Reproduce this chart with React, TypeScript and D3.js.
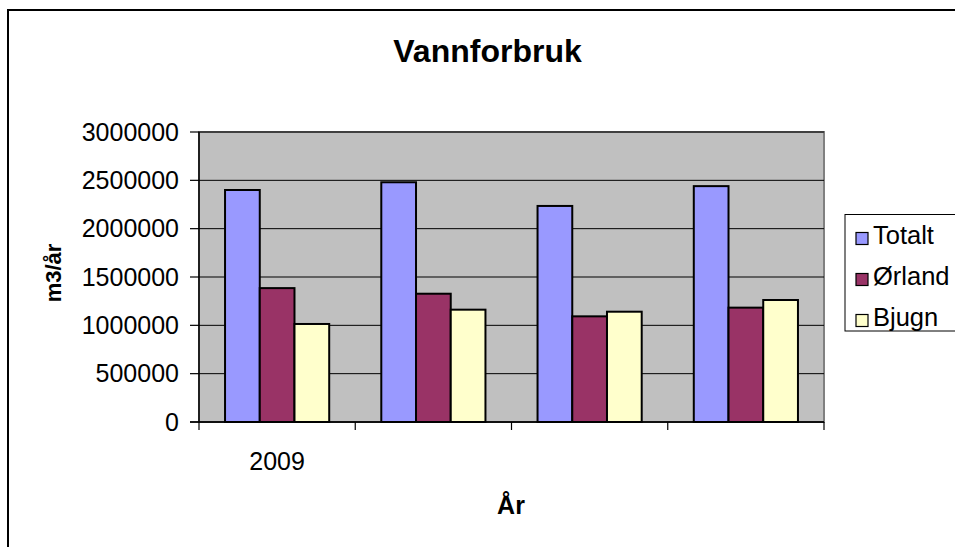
import React from "react";
import * as d3 from "d3";

const categories = ["2009", "", "", ""];
const seriesNames = ["Totalt", "Ørland", "Bjugn"];
const totalt = [2400000, 2480000, 2235000, 2440000];
const orland = [1385000, 1327000, 1093000, 1183000];
const bjugn = [1014000, 1162000, 1141000, 1262000];
const seriesValues = [totalt, orland, bjugn];
const yTicks = [0, 500000, 1000000, 1500000, 2000000, 2500000, 3000000];
const colors = ["#9999FF", "#993366", "#FFFFCC"];

const W = 955;
const H = 547;
const plot = { left: 199, right: 824, top: 132, bottom: 422 };
const FONT = "'Liberation Sans', Arial, sans-serif";

export default function App() {
  const x = d3.scaleBand<string>()
    .domain(categories.map((_, i) => String(i)))
    .range([plot.left, plot.right])
    .paddingInner(0)
    .paddingOuter(0);
  const xs = d3.scaleBand<string>()
    .domain(seriesNames)
    .range([0, x.bandwidth()])
    .paddingInner(0)
    .paddingOuter(0.75);
  const y = d3.scaleLinear().domain([0, 3000000]).range([plot.bottom, plot.top]);

  const catTicks = d3.range(categories.length + 1).map(
    (i) => plot.left + i * x.step()
  );

  return (
    <svg
      width={W}
      height={H}
      style={{ position: "absolute", left: 0, top: 0, background: "#fff" }}
      fontFamily={FONT}
    >
      <rect x={8} y={10} width={1200} height={1200} fill="#fff" stroke="#000" strokeWidth={2} />
      <text x={487.5} y={61.5} textAnchor="middle" fontSize={32} fontWeight="bold">
        Vannforbruk
      </text>

      <rect
        x={plot.left}
        y={plot.top}
        width={plot.right - plot.left}
        height={plot.bottom - plot.top}
        fill="#C0C0C0"
        stroke="#808080"
        strokeWidth={2}
      />
      {yTicks.map((t) => (
        <line
          key={"g" + t}
          x1={plot.left}
          x2={plot.right}
          y1={y(t)}
          y2={y(t)}
          stroke="#000"
          strokeWidth={1}
        />
      ))}

      {categories.map((c, ci) =>
        seriesNames.map((s, si) => {
          const v = seriesValues[si][ci];
          const bx = (x(String(ci)) as number) + (xs(s) as number);
          return (
            <rect
              key={ci + "-" + si}
              x={bx}
              y={y(v)}
              width={xs.bandwidth()}
              height={y(0) - y(v)}
              fill={colors[si]}
              stroke="#000"
              strokeWidth={2}
            />
          );
        })
      )}

      {/* axes */}
      <line x1={plot.left} x2={plot.left} y1={plot.top} y2={plot.bottom} stroke="#000" strokeWidth={1.5} />
      <line x1={plot.left - 9} x2={plot.right} y1={plot.bottom} y2={plot.bottom} stroke="#000" strokeWidth={1.5} />
      {yTicks.map((t) => (
        <g key={"t" + t}>
          <line x1={plot.left - 9} x2={plot.left} y1={y(t)} y2={y(t)} stroke="#000" strokeWidth={1.2} />
          <text
            x={179}
            y={y(t)}
            dy="0.35em"
            textAnchor="end"
            fontSize={25}
          >
            {t}
          </text>
        </g>
      ))}
      {catTicks.map((cx, i) => (
        <line key={"c" + i} x1={cx} x2={cx} y1={plot.bottom} y2={plot.bottom + 8} stroke="#000" strokeWidth={1.2} />
      ))}
      {categories.map((c, ci) => (
        <text
          key={"cl" + ci}
          x={(x(String(ci)) as number) + x.bandwidth() / 2}
          y={469.5}
          textAnchor="middle"
          fontSize={25}
        >
          {c}
        </text>
      ))}

      <text x={511} y={513.5} textAnchor="middle" fontSize={25} fontWeight="bold">
        År
      </text>
      <text
        transform={`translate(61,273) rotate(-90)`}
        textAnchor="middle"
        fontSize={22}
        fontWeight="bold"
      >
        m3/år
      </text>

      {/* legend */}
      <rect x={845} y={214.5} width={200} height={116.5} fill="#fff" stroke="#000" strokeWidth={1} />
      {seriesNames.map((s, i) => {
        const base = 244 + i * 41;
        return (
          <g key={"l" + s}>
            <rect x={856} y={base - 11.5} width={12} height={12} fill={colors[i]} stroke="#000" strokeWidth={1.2} />
            <text x={873} y={base} fontSize={25.5}>
              {s}
            </text>
          </g>
        );
      })}
    </svg>
  );
}
